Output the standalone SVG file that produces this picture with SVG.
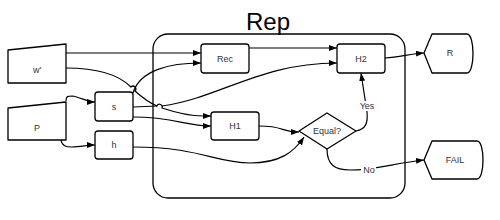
<svg xmlns="http://www.w3.org/2000/svg" width="500" height="220" viewBox="0 0 500 220">
<defs>
<marker id="ah" markerWidth="8" markerHeight="6" refX="8" refY="3" orient="auto" markerUnits="userSpaceOnUse">
<path d="M0,0 L8,3 L0,6 Z" fill="#000"/>
</marker>
<style>
.n{fill:#fff;stroke:#000;stroke-width:1.3;stroke-linejoin:round}
.c{fill:none;stroke:#000;stroke-width:1.2}
.a{marker-end:url(#ah)}
.t{font-family:"Liberation Sans",Arial,sans-serif;font-size:9px;fill:#333;text-anchor:middle}
.lb{fill:#fff;stroke:none}
</style>
</defs>
<rect width="500" height="220" fill="#fff"/>
<g id="container">
<rect x="153" y="34" width="252" height="164" rx="15" ry="15" fill="none" stroke="#000" stroke-width="1.3"/>
<text x="268" y="30" font-family="'Liberation Sans',Arial,sans-serif" font-size="24" fill="#000" text-anchor="middle">Rep</text>
</g>
<g id="connectors">
<path class="c a" d="M66,53 L201,53"/>
<path class="c" d="M66,68 C100,68 120,76 131,87 A2.5,2.5 0 0 1 135,91 C145,100 150,103 157,106 A2.5,2.5 0 0 1 162,108 C180,114 195,116 203,116"/>
<path class="c a" d="M203,116 L211,116"/>
<path class="c a" d="M133,93 C140,70 170,63 201,63"/>
<path class="c" d="M133,107 L157,106"/>
<path class="c a" d="M162,106 C220,98 260,63 337,63"/>
<path class="c a" d="M133,117 C175,117 185,126 211,126"/>
<path class="c a" d="M249,48 L337,48"/>
<path class="c a" d="M66,101 C66,96 68,96 72,96 C80,97 88,102 95,102"/>
<path class="c a" d="M61,140 C62,146 66,147 72,147 C80,147 88,145 95,145"/>
<path class="c a" d="M133,147 C200,147 215,163 250,163 C280,163 294,152 304,137"/>
<path class="c a" d="M259,126 C285,126 280,132 299,132"/>
<path class="c a" d="M356,131 C366,129 368,123 367,112 L361,73"/>
<path class="c a" d="M327,149 C327,165 335,170 350,170 C375,170 395,163 424,160"/>
<path class="c a" d="M385,58 C400,57 410,54 424,53"/>
<rect class="lb" x="358" y="101" width="18" height="10"/>
<text class="t" x="367" y="109">Yes</text>
<rect class="lb" x="361" y="165" width="15" height="10"/>
<text class="t" x="369" y="173">No</text>
</g>
<g id="w">
<polygon class="n" points="8,50 66,44 66,83 8,83"/>
<text class="t" x="37" y="73">w'</text>
</g>
<g id="P">
<polygon class="n" points="8,108 66,102 66,140 8,140"/>
<text class="t" x="37" y="131">P</text>
</g>
<g id="s">
<rect class="n" x="95" y="92" width="38" height="29" rx="3"/>
<text class="t" x="114" y="110">s</text>
</g>
<g id="h">
<rect class="n" x="95" y="131" width="38" height="28" rx="3"/>
<text class="t" x="114" y="148">h</text>
</g>
<g id="Rec">
<rect class="n" x="201" y="44" width="48" height="29" rx="3"/>
<text class="t" x="225" y="62">Rec</text>
</g>
<g id="H2">
<rect class="n" x="337" y="44" width="48" height="29" rx="3"/>
<text class="t" x="361" y="62">H2</text>
</g>
<g id="H1">
<rect class="n" x="211" y="112" width="48" height="28" rx="3"/>
<text class="t" x="235" y="129">H1</text>
</g>
<g id="Equal">
<polygon class="n" points="299,131 327,113 356,131 327,149"/>
<text class="t" x="327" y="134">Equal?</text>
</g>
<g id="R">
<path class="n" d="M424,53 L432,34 L467,34 C475,34 475,73 467,73 L432,73 Z"/>
<text class="t" x="450" y="56">R</text>
</g>
<g id="FAIL">
<path class="n" d="M424,160 L432,141 L477,141 C485,141 485,179 477,179 L432,179 Z"/>
<text class="t" x="455" y="163">FAIL</text>
</g>
</svg>
